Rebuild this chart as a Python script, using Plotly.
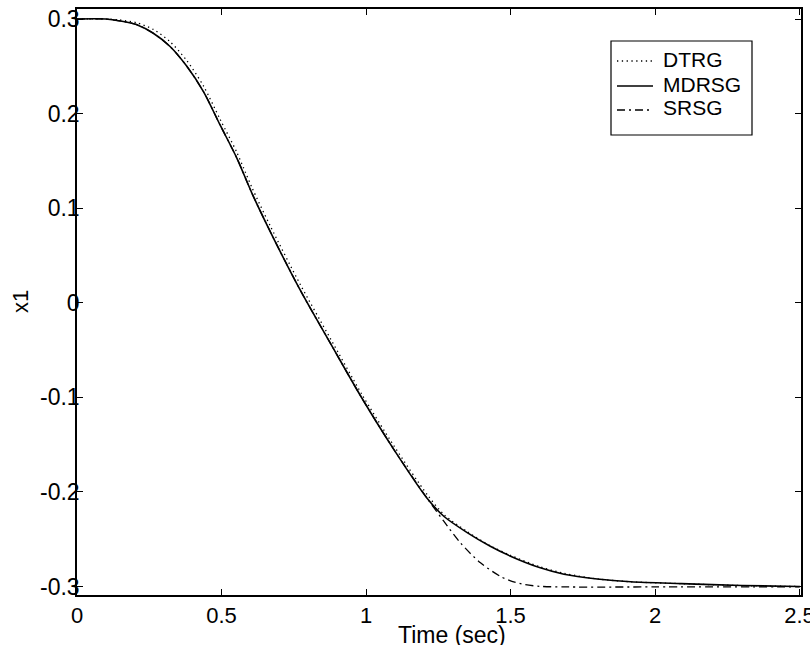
import plotly.graph_objects as go

# Time samples (s) and state x1 for each guidance scheme
t = [0.0, 0.1, 0.149, 0.207, 0.264, 0.322, 0.380, 0.438, 0.495, 0.553, 0.605,
     0.669, 0.773, 0.877, 0.986, 1.096, 1.212, 1.27, 1.35, 1.43, 1.5, 1.6,
     1.685, 1.8, 1.916, 2.09, 2.3, 2.5]

x1_dtrg = [0.3, 0.3, 0.299, 0.296, 0.289, 0.276, 0.256, 0.229, 0.194, 0.159, 0.122,
           0.081, 0.019, -0.038, -0.097, -0.151, -0.203, -0.224, -0.242, -0.257,
           -0.267, -0.279, -0.286, -0.292, -0.295, -0.297, -0.299, -0.300]

x1_mdrsg = [0.3, 0.3, 0.298, 0.294, 0.285, 0.271, 0.250, 0.223, 0.188, 0.153, 0.116,
            0.075, 0.013, -0.043, -0.101, -0.155, -0.207, -0.226, -0.243, -0.2575,
            -0.268, -0.280, -0.287, -0.292, -0.295, -0.297, -0.299, -0.300]

t_srsg = [0.0, 0.1, 0.149, 0.207, 0.264, 0.322, 0.380, 0.438, 0.495, 0.553, 0.605,
          0.669, 0.773, 0.877, 0.986, 1.096, 1.212, 1.269, 1.327, 1.396, 1.466,
          1.5, 1.55, 1.6, 1.7, 2.0, 2.5]
x1_srsg = [0.3, 0.3, 0.298, 0.294, 0.285, 0.271, 0.250, 0.223, 0.188, 0.153, 0.116,
           0.075, 0.013, -0.043, -0.101, -0.155, -0.207, -0.231, -0.254, -0.275,
           -0.2895, -0.294, -0.298, -0.2998, -0.3005, -0.3005, -0.3005]

series_names = ["DTRG", "MDRSG", "SRSG"]

x_ticks = [0, 0.5, 1, 1.5, 2, 2.5]
x_ticktext = ["0", "0.5", "1", "1.5", "2", "2.5"]
y_ticks = [-0.3, -0.2, -0.1, 0, 0.1, 0.2, 0.3]
y_ticktext = ["-0.3", "-0.2", "-0.1", "0", "0.1", "0.2", "0.3"]

FONT = "Liberation Sans, Arial, Helvetica, sans-serif"
W, H = 810, 651
ML, MR, MT, MB = 77, 9, 9, 56
PW, PH = W - ML - MR, H - MT - MB


def px_x(p):
    """Pixel column -> paper x."""
    return (p - ML) / PW


def px_y(p):
    """Pixel row -> paper y."""
    return 1 - (p - MT) / PH


styles = [
    dict(color="black", width=1.3, dash="1.3px,3.5px"),
    dict(color="black", width=1.6, dash="solid"),
    dict(color="black", width=1.3, dash="8px,4px,2px,4px"),
]

fig = go.Figure()
for name, xs, ys, st in zip(series_names, [t, t, t_srsg],
                            [x1_dtrg, x1_mdrsg, x1_srsg], styles):
    fig.add_trace(go.Scatter(x=xs, y=ys, name=name, mode="lines", showlegend=False,
                             line=dict(shape="spline", smoothing=0.8, **st)))

axis_common = dict(
    showgrid=False, zeroline=False, showline=True, linecolor="black", linewidth=1.5,
    mirror="ticks", ticks="inside", ticklen=6, tickcolor="black", tickwidth=1,
    automargin=False,
)

fig.update_xaxes(range=[0, 2.505], tickvals=x_ticks, ticktext=x_ticktext,
                 ticklabeloverflow="allow",
                 tickfont=dict(family=FONT, size=22, color="black"), **axis_common)
fig.update_yaxes(range=[-0.309, 0.3106], tickvals=y_ticks, ticktext=y_ticktext,
                 tickfont=dict(family=FONT, size=23, color="black"),
                 ticklabelstandoff=-9, **axis_common)

# Boxed legend in the upper right corner
shapes = [dict(type="rect", xref="paper", yref="paper",
               x0=px_x(611), x1=px_x(752), y0=px_y(135), y1=px_y(41),
               line=dict(color="black", width=1.2), fillcolor="white", layer="below")]
annotations = []
row_text = [60, 84, 108]
row_line = [61, 86, 110]
for name, st, ry, ly in zip(series_names, styles, row_text, row_line):
    shapes.append(dict(type="line", xref="paper", yref="paper",
                       x0=px_x(617), x1=px_x(653), y0=px_y(ly), y1=px_y(ly),
                       line=dict(color="black", width=st["width"], dash=st["dash"])))
    annotations.append(dict(text=name, xref="paper", yref="paper",
                            x=px_x(661), y=px_y(ry), xanchor="left", yanchor="middle",
                            showarrow=False,
                            font=dict(family=FONT, size=21, color="black")))

annotations += [
    dict(text="Time (sec)", xref="paper", yref="paper", x=px_x(452), y=px_y(635),
         xanchor="center", yanchor="middle", height=20, valign="middle", showarrow=False,
         font=dict(family=FONT, size=23, color="black")),
    dict(text="x1", xref="paper", yref="paper", x=px_x(20), y=px_y(302),
         xanchor="center", yanchor="middle", textangle=-90, showarrow=False,
         font=dict(family=FONT, size=22, color="black")),
]

fig.update_layout(
    width=W, height=H,
    margin=dict(l=ML, r=MR, t=MT, b=MB, autoexpand=False),
    plot_bgcolor="white", paper_bgcolor="white",
    font=dict(family=FONT, size=22, color="black"),
    showlegend=False,
    shapes=shapes,
    annotations=annotations,
)

fig.write_html("out.html")
